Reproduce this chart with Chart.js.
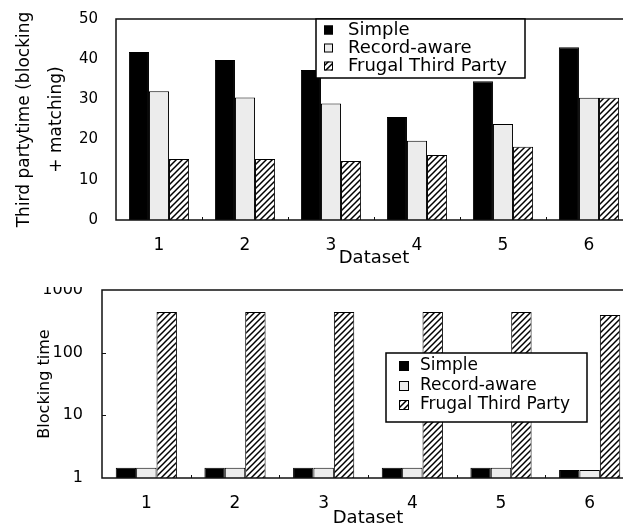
<!DOCTYPE html>
<html>
<head>
<meta charset="utf-8">
<script src="https://cdn.jsdelivr.net/npm/chart.js@4.4.1/dist/chart.umd.min.js"></script>
<style>
  html, body { margin: 0; padding: 0; background: #fff; width: 623px; height: 527px; overflow: hidden; }
  #topChart { position: absolute; left: 0; top: 0; }
  #bottomWrap { position: absolute; left: 0; top: 287px; width: 623px; height: 240px; overflow: hidden; }
  #bottomChart { position: absolute; left: 0; top: -20px; }
</style>
</head>
<body>
<canvas id="topChart" width="640" height="272"></canvas>
<div id="bottomWrap"><canvas id="bottomChart" width="640" height="262"></canvas></div>
<script>
const datasetLabels = ['1', '2', '3', '4', '5', '6'];
const seriesNames = ['Simple', 'Record-aware', 'Frugal Third Party'];

// upper chart: third party time (blocking + matching)
const simpleTotal = [41.8, 39.8, 37.3, 25.6, 34.5, 43.0];
const recordTotal = [32.0, 30.5, 29.0, 19.7, 23.9, 30.4];
const frugalTotal = [15.2, 15.2, 14.7, 16.2, 18.2, 30.4];
const topTicks = [0, 10, 20, 30, 40, 50];

// lower chart: blocking time, log axis
const simpleBlock = [1.46, 1.46, 1.46, 1.46, 1.46, 1.34];
const recordBlock = [1.46, 1.46, 1.46, 1.46, 1.46, 1.34];
const frugalBlock = [445, 445, 445, 445, 445, 399];
const bottomTicks = [1, 10, 100, 1000];

const FONT = 'DejaVu Sans';
Chart.defaults.font.family = FONT;
Chart.defaults.color = '#000';

// diagonal hatch used for the Frugal bars
function makeHatch(ctx) {
    const c = document.createElement('canvas');
    c.width = 6; c.height = 6;
    const g = c.getContext('2d');
    g.fillStyle = '#fff';
    g.fillRect(0, 0, 6, 6);
    g.strokeStyle = '#000';
    g.lineWidth = 1.5;
    g.beginPath();
    g.moveTo(0, 6); g.lineTo(6, 0);
    g.moveTo(-1, 1); g.lineTo(1, -1);
    g.moveTo(5, 7); g.lineTo(7, 5);
    g.stroke();
    return ctx.createPattern(c, 'repeat');
}

// plot frame plus the tiny marks between groups
const framePlugin = {
    id: 'frame',
    afterDatasetsDraw(chart, args, opts) {
        const { ctx, chartArea: a, scales } = chart;
        ctx.save();
        ctx.strokeStyle = '#111';
        ctx.lineWidth = 1.5;
        ctx.strokeRect(a.left, a.top, a.right - a.left, a.bottom - a.top);
        ctx.lineWidth = 1;
        const x = scales.x;
        for (let i = 1; i < x.ticks.length; i++) {
            const px = Math.round((x.getPixelForTick(i - 1) + x.getPixelForTick(i)) / 2) + 0.5;
            ctx.beginPath();
            ctx.moveTo(px, a.bottom);
            ctx.lineTo(px, a.bottom - 3);
            ctx.stroke();
        }
        (opts.yMarks || []).forEach(v => {
            const py = Math.round(scales.y.getPixelForValue(v)) + 0.5;
            ctx.beginPath();
            ctx.moveTo(a.left, py);
            ctx.lineTo(a.left + 4, py);
            ctx.stroke();
        });
        ctx.restore();
    }
};

// boxed legend sitting inside the plot
const boxLegend = {
    id: 'boxLegend',
    afterDatasetsDraw(chart, args, o) {
        const { ctx, chartArea } = chart;
        const x = chartArea.left + o.left;
        const y = chartArea.top + o.top;
        ctx.save();
        ctx.fillStyle = '#fff';
        ctx.fillRect(x, y, o.width, o.height);
        ctx.strokeStyle = '#000';
        ctx.lineWidth = 1.5;
        ctx.strokeRect(x, y, o.width, o.height);
        ctx.font = o.fontSize + 'px "' + FONT + '"';
        ctx.textBaseline = 'middle';
        chart.data.datasets.forEach((ds, i) => {
            const cy = Math.round(y + o.firstRow + i * o.rowGap);
            const mx = x + o.markerX;
            const my = cy - o.marker / 2;
            ctx.fillStyle = ds.backgroundColor;
            ctx.fillRect(mx, my, o.marker, o.marker);
            ctx.lineWidth = 1;
            ctx.strokeRect(mx + 0.5, my + 0.5, o.marker - 1, o.marker - 1);
            ctx.fillStyle = '#000';
            ctx.fillText(ds.label, x + o.textX, cy);
        });
        ctx.restore();
    }
};

function barSets(ctx, values) {
    const hatch = makeHatch(ctx);
    const fills = ['#000', '#ececec', hatch];
    return values.map((data, i) => ({
        label: seriesNames[i],
        data: data,
        backgroundColor: fills[i],
        borderColor: '#000',
        borderWidth: 1,
        barPercentage: 1.0,
        categoryPercentage: 0.7
    }));
}

// keep the y axis at a fixed width and stop it from pushing the plot down
function fixYAxis(width) {
    return s => {
        s.width = width;
        s.paddingTop = 0;
        s.paddingBottom = 0;
    };
}

// upper chart
const topCtx = document.getElementById('topChart').getContext('2d');
new Chart(topCtx, {
    type: 'bar',
    data: {
        labels: datasetLabels,
        datasets: barSets(topCtx, [simpleTotal, recordTotal, frugalTotal])
    },
    options: {
        responsive: false,
        animation: false,
        layout: { padding: { top: 19, right: 8, left: 0, bottom: 2 } },
        plugins: {
            legend: { display: false },
            tooltip: { enabled: false },
            frame: {},
            boxLegend: { left: 200, top: 0, width: 209, height: 59, firstRow: 11, rowGap: 18,
                         markerX: 8, marker: 9, textX: 32, fontSize: 18 }
        },
        scales: {
            x: {
                grid: { display: false, drawTicks: false },
                border: { display: false },
                ticks: { font: { size: 17 }, padding: 15 },
                title: { display: true, text: 'Dataset', font: { size: 18 }, padding: { top: 0, bottom: 1 } },
                afterFit: s => { s.height = 50; }
            },
            y: {
                min: 0,
                max: 50,
                grid: { display: false, drawTicks: false },
                border: { display: false },
                afterBuildTicks: s => { s.ticks = topTicks.map(v => ({ value: v })); },
                ticks: { font: { size: 15 }, padding: 18 },
                title: {
                    display: true,
                    text: ['Third partytime (blocking', '+ matching)'],
                    font: { size: 17, lineHeight: '32px' },
                    padding: { top: 9, bottom: 0 }
                },
                afterFit: fixYAxis(116)
            }
        }
    },
    plugins: [framePlugin, boxLegend]
});

// lower chart
const botCtx = document.getElementById('bottomChart').getContext('2d');
const botSets = barSets(botCtx, [simpleBlock, recordBlock, frugalBlock]);
botSets.forEach(ds => { ds.categoryPercentage = 0.69; });
new Chart(botCtx, {
    type: 'bar',
    data: { labels: datasetLabels, datasets: botSets },
    options: {
        responsive: false,
        animation: false,
        layout: { padding: { top: 23, right: 6, left: 0, bottom: 0 } },
        plugins: {
            legend: { display: false },
            tooltip: { enabled: false },
            frame: { yMarks: [10, 100] },
            boxLegend: { left: 284, top: 63, width: 201, height: 69, firstRow: 13, rowGap: 19.5,
                         markerX: 13, marker: 10, textX: 34, fontSize: 17 }
        },
        scales: {
            x: {
                grid: { display: false, drawTicks: false },
                border: { display: false },
                ticks: { font: { size: 17 }, padding: 15 },
                title: { display: true, text: 'Dataset', font: { size: 18 }, padding: { top: 0, bottom: 0 } },
                afterFit: s => { s.height = 51; }
            },
            y: {
                type: 'logarithmic',
                min: 1,
                max: 1000,
                grid: { display: false, drawTicks: false },
                border: { display: false },
                afterBuildTicks: s => { s.ticks = bottomTicks.map(v => ({ value: v })); },
                ticks: { font: { size: 16 }, padding: 19, callback: v => String(v) },
                title: { display: true, text: 'Blocking time', font: { size: 16 }, padding: { top: 35, bottom: 0 } },
                afterFit: fixYAxis(102)
            }
        }
    },
    plugins: [framePlugin, boxLegend]
});
</script>
</body>
</html>
